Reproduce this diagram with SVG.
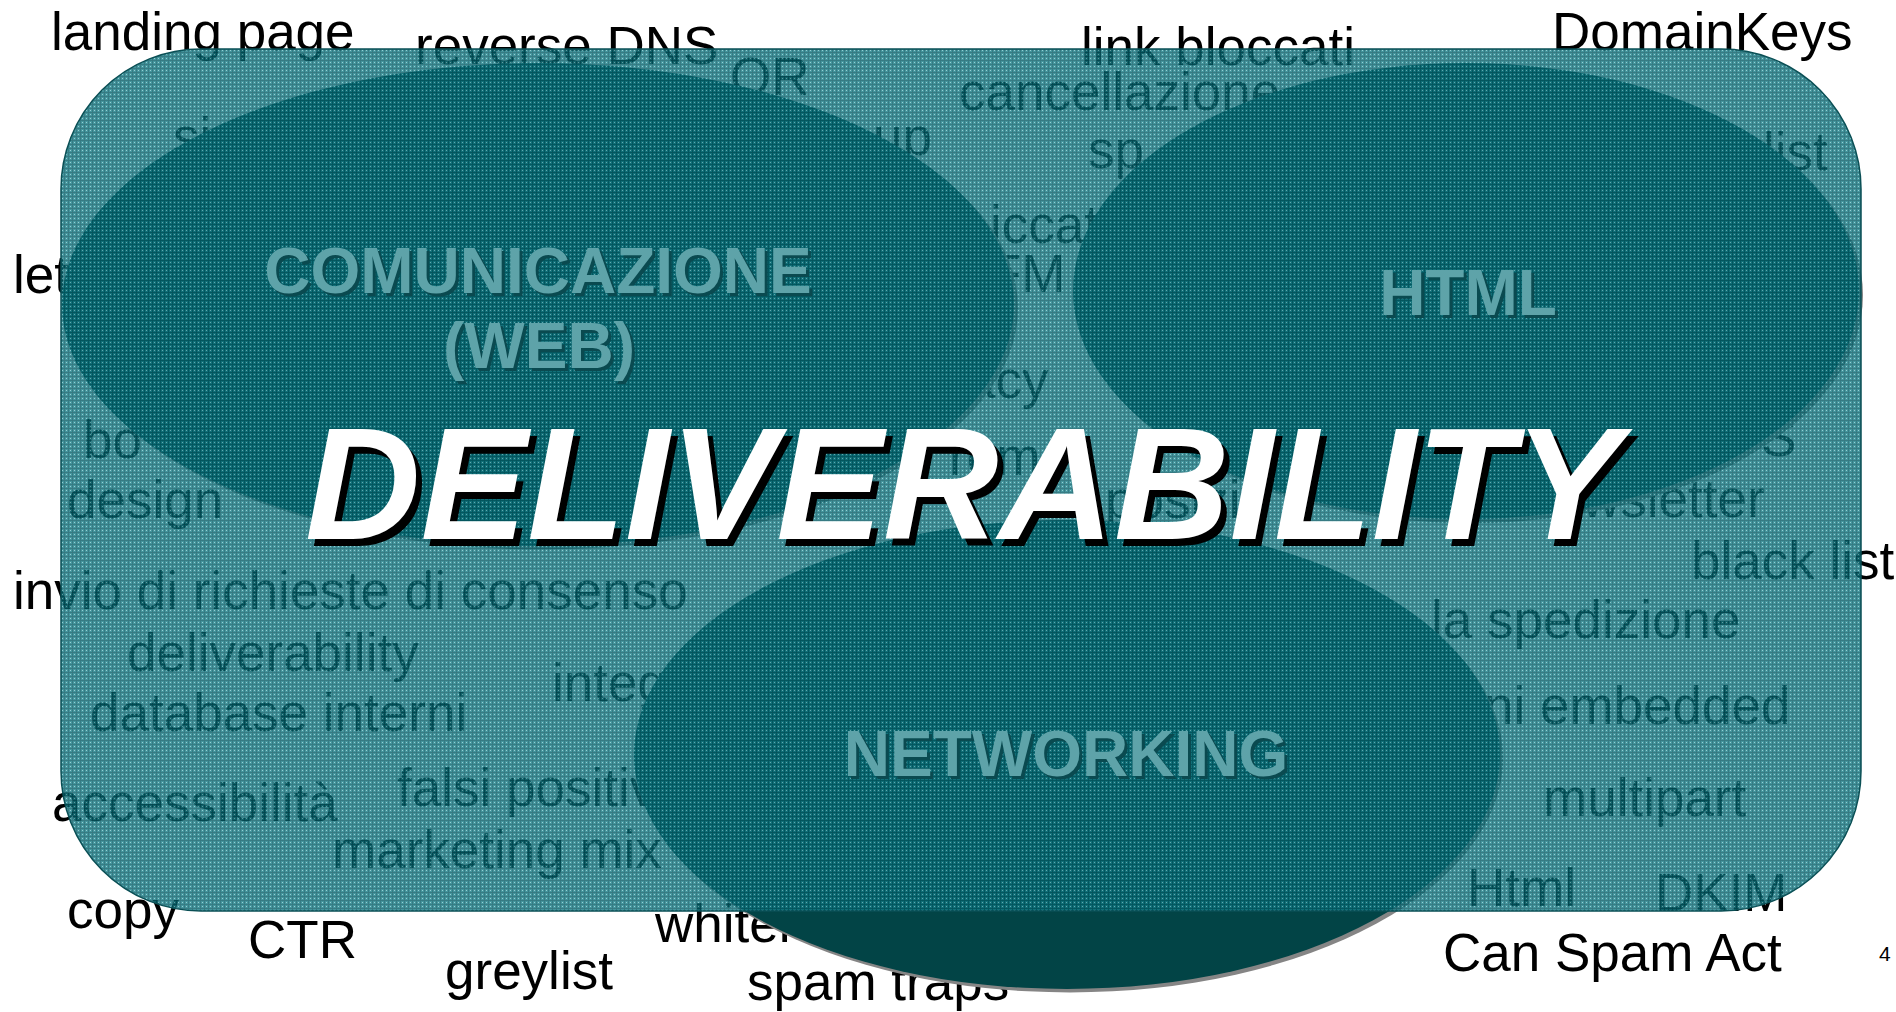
<svg xmlns="http://www.w3.org/2000/svg" width="1896" height="1012" viewBox="0 0 1896 1012">
<defs>
<style>
.w{font-family:"Liberation Sans",Arial,sans-serif;font-size:53px;fill:#000}
.lbl{font-family:"Liberation Sans",Arial,sans-serif;font-size:64px;font-weight:bold;text-anchor:middle}
.lsh{fill:#0a4a50}
.lfg{fill:#5ea3a9}
.ell{fill:#024446}
.shd{fill:#858585}
.big{font-family:"Liberation Sans",Arial,sans-serif;font-size:160px;font-weight:bold;font-style:italic}
</style>
<pattern id="tex" width="4" height="4" patternUnits="userSpaceOnUse">
<rect width="4" height="4" fill="rgb(20,122,132)"/>
<rect width="4" height="1" fill="rgb(5,90,100)"/>
<rect width="1" height="4" fill="rgb(5,90,100)"/>
<rect x="2" y="2" width="1" height="1" fill="rgb(125,192,197)"/>
</pattern>
</defs>
<rect width="1896" height="1012" fill="#fff"/>
<g id="words">
<text class="w" x="51" y="50">landing page</text>
<text class="w" x="415" y="64">reverse DNS</text>
<text class="w" x="730" y="95">OR</text>
<text class="w" x="173" y="155">si</text>
<text class="w" x="873" y="155">up</text>
<text class="w" x="13" y="293">let</text>
<text class="w" x="83" y="458">bo</text>
<text class="w" x="67" y="518">design</text>
<text class="w" x="13" y="609">invio di richieste di consenso</text>
<text class="w" x="127" y="671">deliverability</text>
<text class="w" x="90" y="731">database interni</text>
<text class="w" x="552" y="701">integ</text>
<text class="w" x="52" y="821">accessibilità</text>
<text class="w" x="397" y="806">falsi positiv</text>
<text class="w" x="332" y="868">marketing mix</text>
<text class="w" x="67" y="928">copy</text>
<text class="w" x="248" y="958">CTR</text>
<text class="w" x="445" y="989">greylist</text>
<text class="w" x="655" y="942">whitel</text>
<text class="w" x="747" y="1000">spam traps</text>
<text class="w" x="1081" y="65">link bloccati</text>
<text class="w" x="959" y="110">cancellazione</text>
<text class="w" x="1088" y="168">sp</text>
<text class="w" x="1763" y="170">list</text>
<text class="w" x="990" y="243">iccat</text>
<text class="w" x="989" y="292">FM</text>
<text class="w" x="966" y="398">acy</text>
<text class="w" x="949" y="475">rem</text>
<text class="w" x="1105" y="518">posizi</text>
<text class="w" x="1761" y="456">S</text>
<text class="w" x="1582" y="517">wsletter</text>
<text class="w" x="1691" y="579">black list</text>
<text class="w" x="1431" y="638">la spedizione</text>
<text class="w" x="1484" y="724">ni embedded</text>
<text class="w" x="1543" y="816">multipart</text>
<text class="w" x="1467" y="906">Html</text>
<text class="w" x="1655" y="911">DKIM</text>
<text class="w" x="1443" y="971">Can Spam Act</text>
<text class="w" x="1552" y="50">DomainKeys</text>
<text class="w" x="1879" y="961" style="font-size:21px">4</text>
</g>
<g id="node-comunicazione-shape">
<ellipse class="shd" cx="542" cy="308" rx="476" ry="241.5"/>
<ellipse class="ell" cx="538" cy="304.5" rx="476" ry="241.5"/>
</g>
<g id="node-html-shape">
<ellipse class="shd" cx="1470" cy="295" rx="393" ry="228"/>
<ellipse class="ell" cx="1466" cy="291" rx="393" ry="228"/>
</g>
<g id="node-networking-shape">
<ellipse class="shd" cx="1070" cy="758" rx="433" ry="234.5"/>
<ellipse class="ell" cx="1067" cy="754.5" rx="433" ry="234.5"/>
</g>
<rect id="panel" x="61" y="49" width="1800" height="862" rx="140" ry="140" fill="url(#tex)" opacity="0.8"/>
<rect x="61" y="49" width="1800" height="862" rx="140" ry="140" fill="none" stroke="#0a4f55" stroke-width="1.5"/>
<g id="node-comunicazione">
<text class="lbl lsh" x="541" y="296">COMUNICAZIONE</text>
<text class="lbl lfg" x="538" y="293">COMUNICAZIONE</text>
<text class="lbl lsh" x="542" y="371">(WEB)</text>
<text class="lbl lfg" x="539" y="368">(WEB)</text>
</g>
<g id="node-html">
<text class="lbl lsh" x="1471" y="318">HTML</text>
<text class="lbl lfg" x="1468" y="315">HTML</text>
</g>
<g id="node-networking">
<text class="lbl lsh" x="1069" y="779">NETWORKING</text>
<text class="lbl lfg" x="1066" y="776">NETWORKING</text>
</g>
<g id="connectors"></g>
<g id="title">
<text class="big" x="311" y="546" fill="#000">DELIVERABILITY</text>
<text class="big" x="305" y="539" fill="#fff">DELIVERABILITY</text>
</g>
</svg>
